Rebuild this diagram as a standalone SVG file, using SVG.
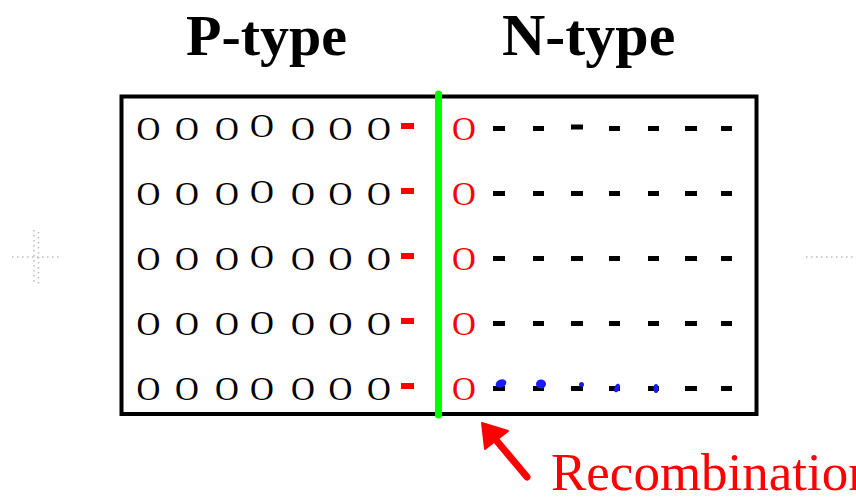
<svg xmlns="http://www.w3.org/2000/svg" width="856" height="498" viewBox="0 0 856 498">
<style>
.o{font-family:"Liberation Serif","Times New Roman",serif;font-size:33px;fill:#000}
.ro{font-family:"Liberation Serif","Times New Roman",serif;font-size:33px;fill:#f00}
.t{font-family:"Liberation Serif","Times New Roman",serif;font-weight:bold;font-size:58px;fill:#000}
.rd{fill:#f00}
.bd{fill:#000}
.bl{fill:#1a1aff}
.faint{stroke:#bbb;stroke-width:1.5;stroke-dasharray:1.5 3.5;fill:none}
</style>
<rect width="856" height="498" fill="#fff"/>
<g id="faint-marks">
<line class="faint" x1="34" y1="230" x2="34" y2="284"/>
<line class="faint" x1="38.5" y1="232" x2="38.5" y2="284"/>
<line class="faint" x1="12" y1="257" x2="61" y2="257"/>
<line class="faint" x1="806" y1="257" x2="854" y2="257"/>
</g>
<g id="title-p"><text class="t" x="186" y="55">P-type</text></g>
<g id="title-n"><text class="t" x="502" y="55" style="font-size:60px">N-type</text></g>
<g id="box"><rect x="121.5" y="96.5" width="635" height="317.5" fill="none" stroke="#000" stroke-width="4"/></g>
<g id="p-holes">
<text class="o" y="140"><tspan x="136.5">O</tspan><tspan x="175">O</tspan><tspan x="215">O</tspan><tspan x="250" dy="-3">O</tspan><tspan x="291" dy="3">O</tspan><tspan x="328.5">O</tspan><tspan x="367">O</tspan></text>
<text class="o" y="205"><tspan x="136.5">O</tspan><tspan x="175">O</tspan><tspan x="215">O</tspan><tspan x="250" dy="-2">O</tspan><tspan x="291" dy="2">O</tspan><tspan x="328.5">O</tspan><tspan x="367">O</tspan></text>
<text class="o" y="270"><tspan x="136.5">O</tspan><tspan x="175">O</tspan><tspan x="215">O</tspan><tspan x="250" dy="-2.5">O</tspan><tspan x="291" dy="2.5">O</tspan><tspan x="328.5">O</tspan><tspan x="367">O</tspan></text>
<text class="o" y="335"><tspan x="136.5">O</tspan><tspan x="175">O</tspan><tspan x="215">O</tspan><tspan x="250" dy="-1">O</tspan><tspan x="291" dy="1">O</tspan><tspan x="328.5">O</tspan><tspan x="367">O</tspan></text>
<text class="o" y="400"><tspan x="136.5">O</tspan><tspan x="175">O</tspan><tspan x="215">O</tspan><tspan x="250">O</tspan><tspan x="291">O</tspan><tspan x="328.5">O</tspan><tspan x="367">O</tspan></text>
</g>
<g id="p-electrons">
<rect class="rd" x="401" y="123" width="13" height="6"/>
<rect class="rd" x="401" y="188" width="13" height="6"/>
<rect class="rd" x="401" y="253" width="13" height="6"/>
<rect class="rd" x="401" y="318" width="13" height="6"/>
<rect class="rd" x="401" y="383" width="13" height="6"/>
</g>
<g id="junction"><line x1="438.5" y1="94" x2="438.5" y2="415" stroke="#00ff00" stroke-width="7" stroke-linecap="round"/></g>
<g id="n-holes">
<text class="ro" x="452" y="140">O</text>
<text class="ro" x="452" y="205">O</text>
<text class="ro" x="452" y="270">O</text>
<text class="ro" x="452" y="335">O</text>
<text class="ro" x="452" y="400">O</text>
</g>
<g id="n-electrons">
<g transform="translate(0,126)"><rect class="bd" x="493" y="0" width="12" height="5"/><rect class="bd" x="533" y="0" width="11" height="5"/><rect class="bd" x="571" y="-1.5" width="12" height="5"/><rect class="bd" x="609" y="0" width="11" height="5"/><rect class="bd" x="648" y="0" width="11" height="5"/><rect class="bd" x="685" y="0" width="12" height="5"/><rect class="bd" x="721" y="0" width="11" height="5"/></g>
<g transform="translate(0,191)"><rect class="bd" x="493" y="0" width="12" height="5"/><rect class="bd" x="533" y="0" width="11" height="5"/><rect class="bd" x="571" y="0" width="12" height="5"/><rect class="bd" x="609" y="0" width="11" height="5"/><rect class="bd" x="648" y="0" width="11" height="5"/><rect class="bd" x="685" y="0" width="12" height="5"/><rect class="bd" x="721" y="0" width="11" height="5"/></g>
<g transform="translate(0,256)"><rect class="bd" x="493" y="0" width="12" height="5"/><rect class="bd" x="533" y="0" width="11" height="5"/><rect class="bd" x="571" y="0" width="12" height="5"/><rect class="bd" x="609" y="0" width="11" height="5"/><rect class="bd" x="648" y="0" width="11" height="5"/><rect class="bd" x="685" y="0" width="12" height="5"/><rect class="bd" x="721" y="0" width="11" height="5"/></g>
<g transform="translate(0,321)"><rect class="bd" x="493" y="0" width="12" height="5"/><rect class="bd" x="533" y="0" width="11" height="5"/><rect class="bd" x="571" y="0" width="12" height="5"/><rect class="bd" x="609" y="0" width="11" height="5"/><rect class="bd" x="648" y="0" width="11" height="5"/><rect class="bd" x="685" y="0" width="12" height="5"/><rect class="bd" x="721" y="0" width="11" height="5"/></g>
<g transform="translate(0,386)"><rect class="bd" x="493" y="0" width="12" height="5"/><rect class="bd" x="533" y="0" width="11" height="5"/><rect class="bd" x="571" y="0" width="12" height="5"/><rect class="bd" x="609" y="0" width="11" height="5"/><rect class="bd" x="648" y="0" width="11" height="5"/><rect class="bd" x="685" y="0" width="12" height="5"/><rect class="bd" x="721" y="0" width="11" height="5"/></g>
</g>
<g id="recombining-electrons">
<ellipse class="bl" cx="501" cy="383.5" rx="5.5" ry="4" transform="rotate(-20 501 383.5)"/>
<ellipse class="bl" cx="541" cy="384" rx="5" ry="4.5"/>
<circle class="bl" cx="581.5" cy="384.5" r="2.5"/>
<ellipse class="bl" cx="617" cy="388" rx="2.5" ry="4.5" transform="rotate(20 617 388)"/>
<ellipse class="bl" cx="656" cy="388.5" rx="2.5" ry="4.5"/>
</g>
<g id="connectors">
<line x1="527" y1="477" x2="496" y2="440" stroke="#f00" stroke-width="7" stroke-linecap="round"/>
<polygon points="482,423 485,449 508,431" fill="#f00" stroke="#f00" stroke-width="2" stroke-linejoin="round"/>
</g>
<g id="label-recombination"><text x="551" y="490" style="font-family:'Liberation Serif','Times New Roman',serif;font-size:53px;fill:#f00">Recombination</text></g>
</svg>
